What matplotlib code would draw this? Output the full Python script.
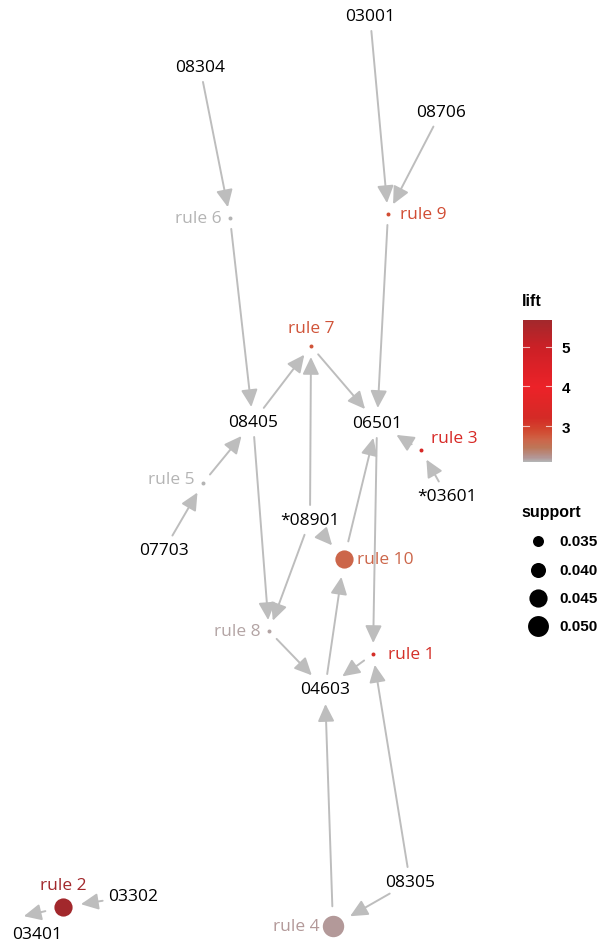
import numpy as np
import matplotlib
matplotlib.use("Agg")
import matplotlib.pyplot as plt
from matplotlib.colors import LinearSegmentedColormap, Normalize
from matplotlib.patches import FancyArrowPatch
import matplotlib.colorbar as mcolorbar

# ---------------- data ----------------
items = ["03001", "08304", "08706", "08405", "06501", "*03601", "07703",
         "*08901", "04603", "08305", "03302", "03401"]
rules = ["rule 1", "rule 2", "rule 3", "rule 4", "rule 5", "rule 6",
         "rule 7", "rule 8", "rule 9", "rule 10"]
rule_lift = [3.15, 5.68, 3.3, 2.2, 2.1, 2.09, 2.78, 2.15, 2.85, 2.65]
rule_support = [0.030, 0.045, 0.030, 0.051, 0.030, 0.030, 0.030, 0.030, 0.030, 0.045]
edges = [
    ("03001", "rule 9"), ("08706", "rule 9"), ("rule 9", "06501"),
    ("08304", "rule 6"), ("rule 6", "08405"),
    ("08405", "rule 7"), ("*08901", "rule 7"), ("rule 7", "06501"),
    ("*03601", "rule 3"), ("rule 3", "06501"),
    ("07703", "rule 5"), ("rule 5", "08405"),
    ("08405", "rule 8"), ("*08901", "rule 8"), ("rule 8", "04603"),
    ("*08901", "rule 10"), ("04603", "rule 10"), ("rule 10", "06501"),
    ("06501", "rule 1"), ("08305", "rule 1"), ("rule 1", "04603"),
    ("rule 4", "04603"), ("08305", "rule 4"),
    ("03302", "rule 2"), ("rule 2", "03401"),
]
lift_ticks = [3, 4, 5]
support_breaks = [0.035, 0.040, 0.045, 0.050]

# ---------------- layout (pixel space) ----------------
pos = {
    "03001": (370, 17), "08304": (200, 68), "08706": (441, 113),
    "08405": (253, 423), "06501": (377, 424), "*03601": (447, 497),
    "07703": (164, 551), "*08901": (310, 521), "04603": (325, 690),
    "08305": (410, 883), "03302": (133, 897), "03401": (16, 919),
    "rule 1": (373, 655), "rule 2": (63, 908), "rule 3": (421, 451),
    "rule 4": (333, 927), "rule 5": (203, 484), "rule 6": (230, 219),
    "rule 7": (311, 347), "rule 8": (269, 632), "rule 9": (388, 215),
    "rule 10": (344, 560),
}
item_text_offset = {"03401": (21, 16)}
label_place = {  # side, dx, dy
    "rule 1": ("right", 15, 0), "rule 2": ("above", 0, -22),
    "rule 3": ("right", 10, -12), "rule 4": ("left", -13, 0),
    "rule 5": ("left", -8, -4), "rule 6": ("left", -8, 0),
    "rule 7": ("above", 0, -18), "rule 8": ("left", -8, 0),
    "rule 9": ("right", 12, 0), "rule 10": ("right", 13, 0),
}

cmap = LinearSegmentedColormap.from_list("lift", [
    (0.00, "#b4b4b4"), (0.03, "#b39696"), (0.10, "#bd7658"),
    (0.155, "#cd6549"), (0.19, "#d0553a"), (0.23, "#d2452e"),
    (0.31, "#d42a26"), (0.53, "#ec2228"), (0.81, "#cb2026"),
    (1.00, "#a2282c")])
lmin, lmax = 2.09, 5.68
norm = Normalize(lmin, lmax)

DPI = 100
W, H = 598, 945
fig = plt.figure(figsize=(W / DPI, H / DPI), dpi=DPI)
ax = fig.add_axes([0, 0, 1, 1])
ax.set_xlim(0, W)
ax.set_ylim(H, 0)
ax.axis("off")

FONT = "Open Sans"
LEG = "Liberation Sans"

def diam_px(s):
    return 1.1 * np.sqrt(max(100 + (s - 0.035) * 17400, 10.0))

def s_pts(d):
    return (d * 72 / DPI) ** 2

rule_info = {r: (l, s) for r, l, s in zip(rules, rule_lift, rule_support)}

# edges
edge_col = "#bdbdbd"
for a, b in edges:
    x0, y0 = pos[a]
    x1, y1 = pos[b]
    dx, dy = x1 - x0, y1 - y0
    L = np.hypot(dx, dy)
    ux, uy = dx / L, dy / L

    def cap(n):
        if n in rule_info:
            return diam_px(rule_info[n][1]) / 2 + 9
        if n in item_text_offset:
            return 8.0
        ea, eb = 32.0, 15.0
        return 1.0 / np.sqrt((ux / ea) ** 2 + (uy / eb) ** 2)

    ca, cb = cap(a), cap(b)
    p0 = (x0 + ux * ca, y0 + uy * ca)
    p1 = (x1 - ux * cb, y1 - uy * cb)
    arr = FancyArrowPatch(p0, p1, arrowstyle="-|>,head_length=1.05,head_width=0.5",
                          mutation_scale=10, color=edge_col, lw=1.4,
                          shrinkA=0, shrinkB=0, zorder=1)
    ax.add_patch(arr)

# item labels
for it in items:
    x, y = pos[it]
    ox, oy = item_text_offset.get(it, (0, 0))
    ax.text(x + ox, y + oy, it, ha="center", va="center", fontsize=12.5,
            family=FONT, color="black", zorder=3)

# rule nodes
for r in rules:
    l, s = rule_info[r]
    c = cmap(norm(l))
    x, y = pos[r]
    ax.scatter([x], [y], s=s_pts(diam_px(s)), color=c, zorder=4, linewidths=0)
    side, ox, oy = label_place[r]
    ha = {"right": "left", "left": "right", "above": "center"}[side]
    ax.text(x + ox, y + oy, r, ha=ha, va="center", fontsize=12.5, family=FONT,
            color=c, zorder=3)

# colorbar legend
cax = fig.add_axes([523 / W, 1 - 463 / H, 29 / W, 142 / H])
cb = mcolorbar.ColorbarBase(cax, cmap=cmap, norm=norm, orientation="vertical")
cb.outline.set_visible(False)
cb.set_ticks(lift_ticks)
cb.set_ticklabels([str(t) for t in lift_ticks])
cax.tick_params(length=0, pad=7, labelsize=11)
for lab in cax.get_yticklabels():
    lab.set_fontweight("bold")
    lab.set_family(LEG)
for t in lift_ticks:
    cax.plot([0, 0.2], [t, t], color="white", lw=0.8, alpha=0.7)
    cax.plot([0.8, 1.0], [t, t], color="white", lw=0.8, alpha=0.7)
ax.text(522, 302, "lift", ha="left", va="center", fontsize=11.5,
        family=LEG, fontweight="bold")

# support legend
ax.text(521, 512, "support", ha="left", va="center", fontsize=11.5,
        family=LEG, fontweight="bold")
leg_y = [542, 571, 599, 627]
for s, yy in zip(support_breaks, leg_y):
    ax.scatter([538], [yy], s=s_pts(diam_px(s)), color="black", linewidths=0)
    ax.text(559, yy, f"{s:.3f}", ha="left", va="center", fontsize=11,
            family=LEG, fontweight="bold")

fig.savefig("out.png", dpi=DPI)
